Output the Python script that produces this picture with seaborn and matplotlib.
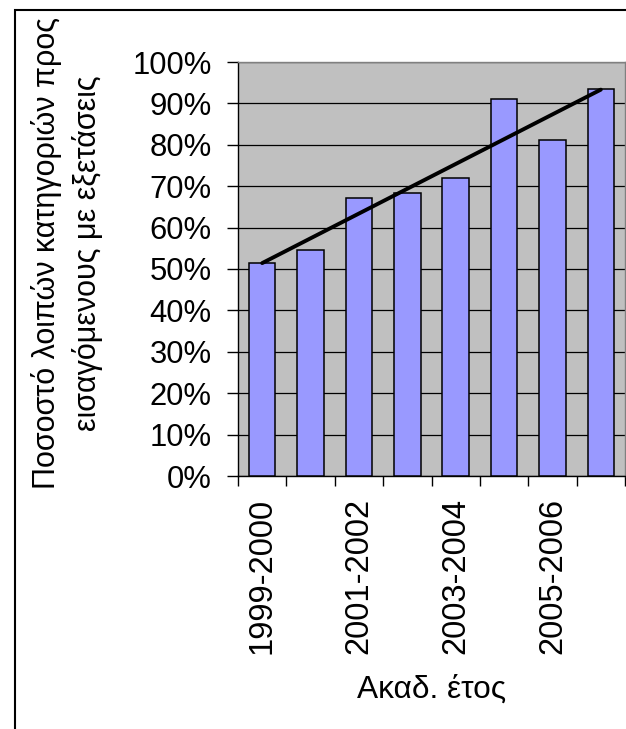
import numpy as np
import pandas as pd
import matplotlib
matplotlib.use("Agg")
import matplotlib.pyplot as plt
import matplotlib.patches as mpatches
from matplotlib.ticker import PercentFormatter, FixedLocator
import seaborn as sns

categories = ["1999-2000", "2000-2001", "2001-2002", "2002-2003",
              "2003-2004", "2004-2005", "2005-2006", "2006-2007"]
values = [51.4, 54.6, 67.1, 68.3, 71.9, 91.1, 81.1, 93.5]
shown_labels = ["1999-2000", "", "2001-2002", "", "2003-2004", "", "2005-2006", ""]
y_ticks = [0, 10, 20, 30, 40, 50, 60, 70, 80, 90, 100]
xlabel = "Ακαδ. έτος"
ylabel = "Ποσοστό λοιπών κατηγοριών προς\nεισαγόμενους με εξετάσεις"

sns.set_theme(style="white")
plt.rcParams['font.family'] = ['Liberation Sans', 'DejaVu Sans']
plt.rcParams['text.color'] = 'black'
plt.rcParams['axes.labelcolor'] = 'black'
plt.rcParams['xtick.color'] = 'black'
plt.rcParams['ytick.color'] = 'black'

df = pd.DataFrame({"cat": categories, "val": values})

fig = plt.figure(figsize=(6.26, 7.29), dpi=100)
ax = fig.add_axes([238/626, 1-476/729, (625-238)/626, (476-62)/729])
ax.set_facecolor("#C0C0C0")

sns.barplot(data=df, x="cat", y="val", color="#9999FF", saturation=1,
            edgecolor="black", linewidth=1.1, width=0.55, ax=ax, zorder=3)

# linear trend line
xs = np.arange(len(values))
coef = np.polyfit(xs, values, 1)
sns.lineplot(x=xs, y=np.polyval(coef, xs), color="black", linewidth=2.8, ax=ax, zorder=4)

ax.set_xlim(-0.5, len(values) - 0.5)
ax.set_ylim(0, 100)
ax.yaxis.set_major_locator(FixedLocator(y_ticks))
ax.yaxis.set_major_formatter(PercentFormatter(100, decimals=0))
ax.grid(axis="y", color="black", linewidth=0.9, zorder=0)
ax.set_axisbelow(True)

ax.set_xticks(xs)
ax.set_xticklabels(shown_labels, rotation=90, fontsize=23.5)
ax.set_xticks(np.arange(-0.5, len(values)), minor=True)
ax.tick_params(axis="x", which="major", length=0, pad=16, labelcolor="black")
ax.tick_params(axis="x", which="minor", length=7, width=1, color="black", direction="out", bottom=True)
ax.tick_params(axis="y", which="major", length=8, width=1, color="black", direction="out", left=True,
               labelsize=22.3, pad=11, labelcolor="black")
for lbl in ax.get_xticklabels():
    lbl.set_va("top")

for side in ["top", "right"]:
    ax.spines[side].set_color("#808080")
    ax.spines[side].set_linewidth(1)
for side in ["left", "bottom"]:
    ax.spines[side].set_color("black")
    ax.spines[side].set_linewidth(1)

ax.set_xlabel(xlabel, fontsize=22.8, color="black")
ax.xaxis.set_label_coords(0.5, -0.481)
ax.set_ylabel("")

fig.text(67/626, 1-253/729, ylabel, rotation=90, ha="center", va="center",
         multialignment="center", fontsize=22, linespacing=1.4, color="black")

frame = mpatches.Rectangle((15/626, -0.05), 1.1, 1-10/729+0.05, transform=fig.transFigure,
                           fill=False, edgecolor="black", linewidth=1.5)
fig.patches.append(frame)

fig.savefig("out.png", dpi=100)
